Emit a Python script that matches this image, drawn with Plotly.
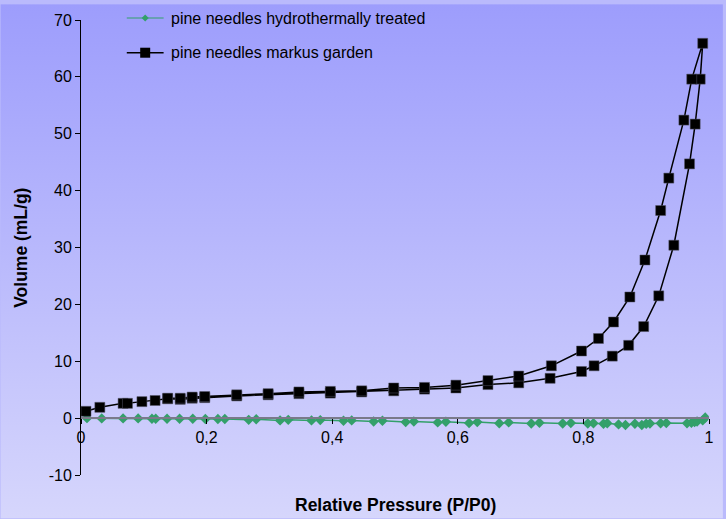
import base64
import plotly.graph_objects as go

# ---- data ----
ads_x = [0.008, 0.030, 0.067, 0.074, 0.097, 0.118, 0.138, 0.158, 0.177, 0.197, 0.248, 0.298,
         0.347, 0.397, 0.447, 0.498, 0.547, 0.597, 0.648, 0.697, 0.747, 0.797, 0.817, 0.846,
         0.872, 0.896, 0.920, 0.944, 0.969, 0.978, 0.986, 0.990]
ads_y = [1.2, 1.9, 2.6, 2.6, 2.9, 3.1, 3.4, 3.3, 3.5, 3.6, 3.9, 4.1,
         4.3, 4.4, 4.6, 4.8, 5.1, 5.3, 5.9, 6.2, 7.0, 8.2, 9.2, 10.9,
         12.8, 16.1, 21.5, 30.4, 44.7, 51.7, 59.6, 65.9]
des_x = [0.9725, 0.960, 0.936, 0.923, 0.898, 0.874, 0.848, 0.824, 0.797, 0.749, 0.697, 0.648,
         0.597, 0.547, 0.498, 0.447, 0.397, 0.347, 0.298, 0.248, 0.197, 0.177, 0.158, 0.138]
des_y = [59.6, 52.4, 42.2, 36.5, 27.8, 21.3, 16.9, 14.0, 11.8, 9.2, 7.4, 6.6,
         5.8, 5.4, 5.3, 4.8, 4.7, 4.6, 4.3, 4.1, 3.8, 3.7, 3.5, 3.5]

hydro_x = [0.0095, 0.033, 0.067, 0.091, 0.113, 0.119, 0.137, 0.157, 0.178, 0.198, 0.218, 0.229,
           0.267, 0.279, 0.317, 0.330, 0.367, 0.381, 0.418, 0.431, 0.466, 0.480, 0.517, 0.530,
           0.568, 0.581, 0.618, 0.631, 0.666, 0.681, 0.717, 0.730, 0.767, 0.780, 0.807, 0.816,
           0.832, 0.838, 0.856, 0.867, 0.882, 0.893, 0.900, 0.906, 0.923, 0.932, 0.965, 0.972,
           0.977, 0.981, 0.990, 0.994]
hydro_y = [0.0, -0.05, -0.05, -0.05, -0.1, -0.1, -0.1, -0.1, -0.1, -0.15, -0.15, -0.15,
           -0.3, -0.2, -0.4, -0.3, -0.4, -0.35, -0.45, -0.4, -0.6, -0.45, -0.7, -0.6,
           -0.75, -0.65, -0.85, -0.7, -0.9, -0.75, -0.95, -0.8, -0.95, -0.85, -0.95, -0.9,
           -1.0, -0.9, -1.1, -1.2, -1.0, -1.2, -1.0, -0.95, -0.9, -0.85, -0.9, -0.8,
           -0.7, -0.6, -0.4, 0.1]

series_names = ["pine needles hydrothermally treated", "pine needles markus garden"]
x_ticks = [0, 0.2, 0.4, 0.6, 0.8, 1]
y_ticks = [-10, 0, 10, 20, 30, 40, 50, 60, 70]
y_tick_text = ["-10", "0", "10", "20", "30", "40", "50", "60", "70"]

FONT = "Liberation Sans, Arial, sans-serif"
GREEN = "#33a06a"
W, H = 726, 519
ML, MR, MT, MB = 81, 14, 16, 44
PW, PH = W - ML - MR, H - MT - MB


def px_x(px):
    return (px - ML) / PW


def px_y(py):
    return 1 - (py - MT) / PH


fig = go.Figure()
fig.add_trace(go.Scatter(
    x=hydro_x, y=hydro_y, mode="lines+markers", name=series_names[0],
    line=dict(color=GREEN, width=1.5),
    marker=dict(symbol="diamond", size=8, color=GREEN),
))
fig.add_trace(go.Scatter(
    x=ads_x + des_x, y=ads_y + des_y, mode="lines+markers", name=series_names[1],
    line=dict(color="black", width=1.5),
    marker=dict(symbol="square", size=10, color="black",
                line=dict(color="#555566", width=0.5)),
))

svg = ('<svg xmlns="http://www.w3.org/2000/svg" width="726" height="519" preserveAspectRatio="none">'
       '<defs><linearGradient id="g" x1="0" y1="0" x2="0" y2="1">'
       '<stop offset="0" stop-color="#9d9dfc"/><stop offset="1" stop-color="#d6d6fc"/>'
       '</linearGradient></defs><rect width="726" height="519" fill="url(#g)"/></svg>')
src = "data:image/svg+xml;base64," + base64.b64encode(svg.encode()).decode()

# manual legend (symbols as shapes, labels as annotations)
leg_rows = [(14, GREEN, "diamond", 1.2), (49, "black", "square", 1.5)]
shapes = []
annotations = []
for (ry, col, sym, lw), name in zip(leg_rows, series_names):
    shapes.append(dict(type="line", xref="paper", yref="paper",
                       x0=px_x(127), x1=px_x(164), y0=px_y(ry), y1=px_y(ry),
                       line=dict(color=col, width=lw)))
    if sym == "square":
        shapes.append(dict(type="rect", xref="paper", yref="paper",
                           xsizemode="pixel", ysizemode="pixel",
                           xanchor=px_x(145.5), yanchor=px_y(ry),
                           x0=-5, x1=5, y0=-5, y1=5,
                           fillcolor=col, line=dict(width=0)))
    else:
        shapes.append(dict(type="path", xref="paper", yref="paper",
                           xsizemode="pixel", ysizemode="pixel",
                           xanchor=px_x(145.5), yanchor=px_y(ry),
                           path="M -3.5 0 L 0 3.5 L 3.5 0 L 0 -3.5 Z",
                           fillcolor=col, line=dict(width=0)))
    annotations.append(dict(text=name, xref="paper", yref="paper",
                            x=px_x(169), y=px_y(ry), xanchor="left", yanchor="middle",
                            showarrow=False, font=dict(family=FONT, size=16, color="black")))

annotations += [
    dict(text="<b>Relative Pressure (P/P0)</b>", xref="paper", yref="paper",
         x=0.5, y=px_y(505), xanchor="center", yanchor="middle", showarrow=False,
         font=dict(family=FONT, size=17.5)),
    dict(text="<b>Volume (mL/g)</b>", xref="paper", yref="paper",
         x=px_x(20), y=0.5, xanchor="center", yanchor="middle", showarrow=False,
         textangle=-90, font=dict(family=FONT, size=17.5)),
]

fig.update_layout(
    width=W, height=H,
    margin=dict(l=ML, r=MR, t=MT, b=MB),
    paper_bgcolor="#babafc",
    plot_bgcolor="rgba(0,0,0,0)",
    separators=", ",
    font=dict(family=FONT, size=16, color="black"),
    images=[dict(source=src, xref="paper", yref="paper",
                 x=-ML / PW, y=1 + MT / PH, sizex=W / PW, sizey=H / PH,
                 xanchor="left", yanchor="top", sizing="stretch", layer="below")],
    showlegend=False,
    xaxis=dict(range=[0, 1], tickvals=x_ticks, tickformat="~g",
               anchor="free", position=10 / 80,
               showline=True, linecolor="#7a7a8a", linewidth=2,
               ticks="outside", ticklen=5, tickcolor="black",
               showgrid=False, zeroline=False,
               tickfont=dict(family=FONT, size=16)),
    yaxis=dict(range=[-10, 70], tickvals=y_ticks, ticktext=y_tick_text,
               showline=True, linecolor="black", linewidth=1,
               ticks="outside", ticklen=5, tickcolor="black",
               showgrid=False, zeroline=False,
               tickfont=dict(family=FONT, size=16)),
    shapes=shapes,
    annotations=annotations,
)

fig.write_html("out.html", post_script="document.body.style.margin='0';",
               config={"displayModeBar": False})
